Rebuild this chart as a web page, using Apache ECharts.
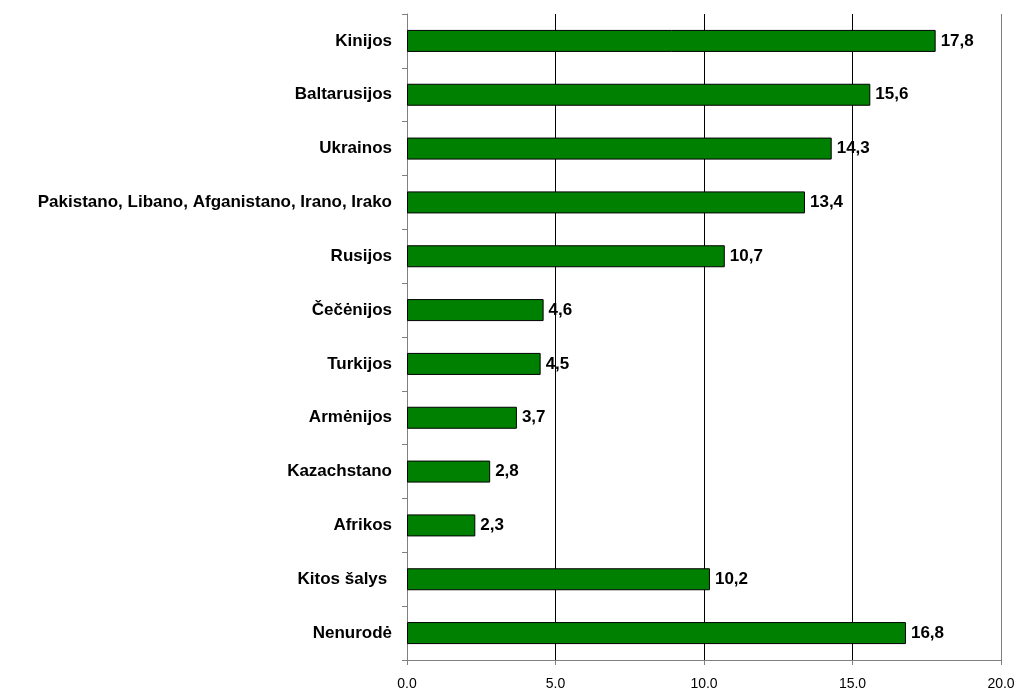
<!DOCTYPE html>
<html><head><meta charset="utf-8">
<script src="https://cdn.jsdelivr.net/npm/echarts@6/dist/echarts.min.js"></script>
<style>html,body{margin:0;padding:0;background:#fff}#c{width:1016px;height:688px}</style>
</head><body><div id="c"></div>
<script>
const categories = ["Kinijos","Baltarusijos","Ukrainos","Pakistano, Libano, Afganistano, Irano, Irako","Rusijos","Čečėnijos","Turkijos","Armėnijos","Kazachstano","Afrikos","Kitos šalys ","Nenurodė"];
const values = [17.8,15.6,14.3,13.4,10.7,4.6,4.5,3.7,2.8,2.3,10.2,16.8];
const xTicks = [0,5,10,15,20];

const chart = echarts.init(document.getElementById('c'), null, {renderer:'canvas'});
chart.setOption({
  animation:false,
  grid:{left:407,right:15,top:14,bottom:28,containLabel:false,outerBoundsMode:'none'},
  xAxis:{
    type:'value',min:xTicks[0],max:xTicks[xTicks.length-1],interval:xTicks[1]-xTicks[0],
    axisLine:{show:true,lineStyle:{color:'#808080',width:1}},
    axisTick:{show:true,length:5,lineStyle:{color:'#808080'}},
    axisLabel:{fontFamily:'Liberation Sans',fontSize:14,color:'#000',margin:17,
      formatter:v=>v.toFixed(1).replace('.',',')},
    splitLine:{show:true,lineStyle:{color:['#808080','#000','#000','#000','#808080'],width:1}}
  },
  yAxis:{
    type:'category',data:categories,inverse:true,
    axisLine:{show:true,lineStyle:{color:'#808080',width:1}},
    axisTick:{show:true,length:5,lineStyle:{color:'#808080'}},
    axisLabel:{fontFamily:'Liberation Sans',fontSize:17,fontWeight:'bold',color:'#000',margin:15}
  },
  series:[{
    type:'bar',data:values,barWidth:22,
    itemStyle:{color:'#008000',borderColor:'#000',borderWidth:1},
    label:{show:true,position:'right',distance:5,fontFamily:'Liberation Sans',fontSize:17,fontWeight:'bold',color:'#000',
      formatter:p=>p.value.toFixed(1).replace('.',',')}
  }]
});
</script></body></html>
